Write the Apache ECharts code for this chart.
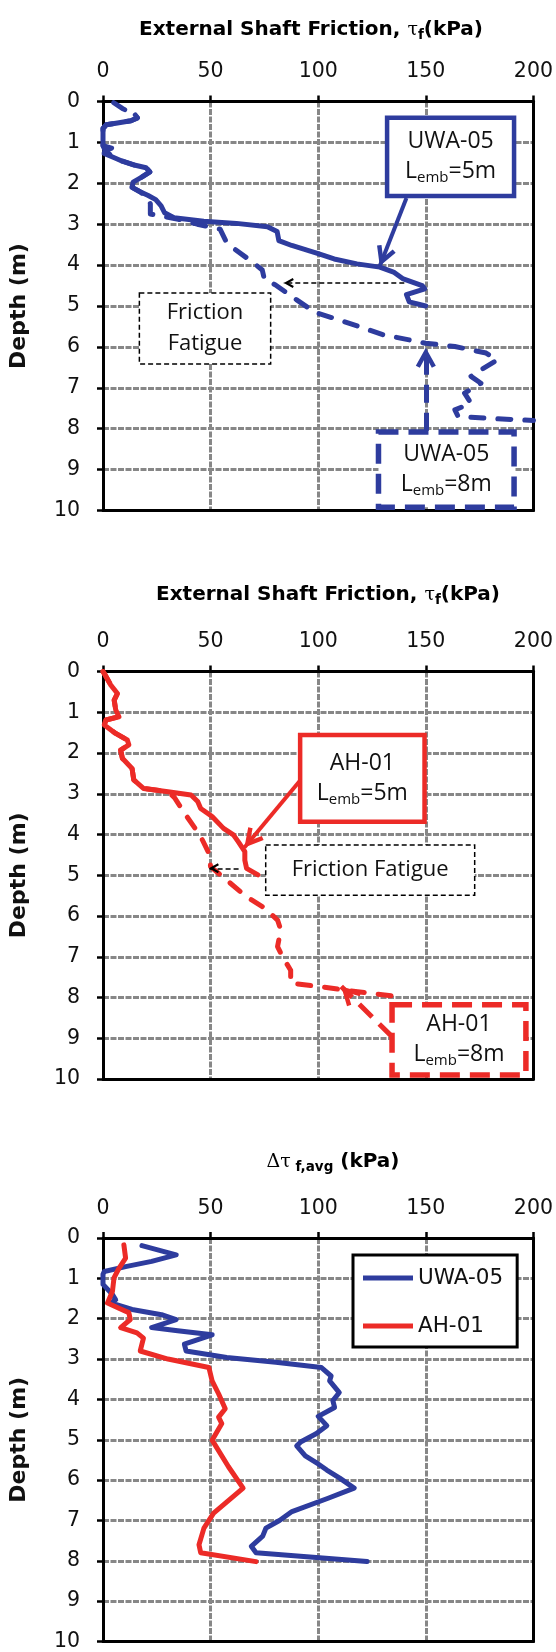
<!DOCTYPE html>
<html>
<head>
<meta charset="utf-8">
<script src="https://cdn.jsdelivr.net/npm/echarts@6/dist/echarts.min.js"></script>
<style>
  html, body { margin: 0; background: #fff; }
  #chart { width: 556px; height: 1652px; }
</style>
</head>
<body>
<div id="chart"></div>
<script>
// tick labels
const frictionTicks = [0, 50, 100, 150, 200];
const depthTicks = [0, 1, 2, 3, 4, 5, 6, 7, 8, 9, 10];

// external shaft friction profiles, [kPa, depth m]
const uwa05Lemb5 = [[15, 0.33], [16, 0.4], [13, 0.47], [6, 0.53], [1.5, 0.57], [0, 0.66], [0, 1.08], [4, 1.14], [1, 1.2], [0.5, 1.27], [5, 1.37], [9, 1.46], [15, 1.56], [20, 1.62], [21.8, 1.72], [18, 1.85], [14, 1.97], [13.5, 2.1], [17, 2.2], [21, 2.3], [24.5, 2.4], [27, 2.55], [28.6, 2.72], [33, 2.84], [46.8, 2.93], [62, 2.98], [76.4, 3.06], [80.9, 3.18], [81.7, 3.4], [87.7, 3.52], [100, 3.72], [107.4, 3.85], [118, 3.97], [128.6, 4.05], [135, 4.17], [139.2, 4.33], [148.3, 4.5], [149.5, 4.58], [141, 4.72], [142.3, 4.9], [149.9, 5.0]];
const uwa05Lemb8 = [[5, 0.03], [9, 0.17], [14, 0.3], [16, 0.4], [13, 0.47], [6, 0.53], [1.5, 0.57], [0, 0.66], [0, 1.08], [1, 1.2], [5, 1.37], [9, 1.46], [15, 1.56], [20, 1.62], [21.8, 1.72], [18, 1.85], [14, 1.97], [13.5, 2.1], [17, 2.2], [21, 2.35], [22, 2.5], [22, 2.75], [27, 2.8], [35, 2.88], [43.8, 3.0], [54.4, 3.12], [57, 3.4], [61, 3.6], [70, 3.95], [74, 4.12], [75, 4.35], [80, 4.48], [90, 4.85], [98.3, 5.15], [112, 5.38], [130, 5.7], [149.9, 5.91], [163.5, 5.99], [178, 6.15], [183.2, 6.32], [175.6, 6.56], [171, 6.72], [175.6, 6.89], [168, 7.13], [171, 7.38], [163.5, 7.54], [165, 7.7], [180, 7.75], [200, 7.8]];
const ah01Lemb5 = [[0, 0], [0.6, 0.05], [3.6, 0.33], [6.7, 0.54], [5.2, 0.7], [5.9, 0.94], [7.4, 1.11], [1.4, 1.19], [0.6, 1.31], [5.9, 1.52], [11.3, 1.68], [12, 1.8], [8.2, 1.93], [9, 2.13], [13.5, 2.38], [14.3, 2.66], [18.8, 2.87], [30.2, 2.95], [40.9, 3.03], [44, 3.19], [45.4, 3.36], [50.7, 3.56], [56, 3.85], [60.6, 4.01], [62.9, 4.18], [65.9, 4.42], [65.9, 4.63], [66.7, 4.83], [72, 4.99]];
const ah01Lemb8 = [[0, 0], [0.6, 0.05], [3.6, 0.33], [6.7, 0.54], [5.2, 0.7], [5.9, 0.94], [7.4, 1.11], [1.4, 1.19], [0.6, 1.31], [5.9, 1.52], [11.3, 1.68], [12, 1.8], [8.2, 1.93], [9, 2.13], [13.5, 2.38], [14.3, 2.66], [18.8, 2.87], [30.2, 2.95], [33.3, 3.1], [37.8, 3.47], [45.4, 4.05], [49.2, 4.46], [50, 4.79], [57.5, 5.12], [66.7, 5.53], [75, 5.8], [81.1, 6.1], [82.6, 6.34], [81.1, 6.75], [83.4, 7.0], [87.2, 7.33], [87.2, 7.65], [100, 7.73], [118.3, 7.86], [138, 7.98]];

// delta tau f,avg, [kPa, depth m]
const uwa05Avg = [[18.1, 0.19], [34, 0.42], [22.6, 0.58], [10.5, 0.71], [0.6, 0.83], [0, 0.9], [0, 1.15], [4.4, 1.4], [5.9, 1.53], [3.6, 1.61], [13.5, 1.77], [27.2, 1.9], [34, 2.02], [22.6, 2.22], [34.7, 2.3], [50.7, 2.4], [37.8, 2.63], [38.6, 2.8], [57.5, 2.96], [80.3, 3.08], [101.5, 3.21], [106, 3.42], [105.3, 3.54], [109.8, 3.83], [106.8, 4.03], [107.6, 4.2], [100, 4.42], [104, 4.65], [99, 4.85], [92, 5.05], [90, 5.15], [94, 5.4], [100, 5.6], [104, 5.75], [110, 5.95], [116.7, 6.2], [104.6, 6.45], [87.8, 6.78], [82, 7.0], [75.7, 7.19], [74.2, 7.39], [68.9, 7.64], [71.1, 7.8], [122.7, 8.02]];
const ah01Avg = [[9.7, 0.17], [10.5, 0.5], [7.4, 0.75], [5.1, 0.99], [4.4, 1.32], [2.1, 1.61], [7.4, 1.74], [12, 1.85], [12.7, 2.02], [8.2, 2.22], [15.8, 2.35], [18.8, 2.48], [17.3, 2.8], [30.2, 3.0], [49.2, 3.21], [50.7, 3.54], [53.7, 3.86], [56.8, 4.23], [53.7, 4.44], [55.2, 4.6], [50.7, 5.01], [58.3, 5.67], [65.1, 6.2], [51.4, 6.82], [46.9, 7.19], [44.6, 7.6], [45.4, 7.8], [71.1, 8.02]];

const BLUE = '#2e3c9e';
const RED = '#ec2b27';
const GREY = '#878787';
const TXT = '#111';
// chevron pointing up, tip sits at the centre of its box
const arrowHead = 'path://M5,0 L10,9 L8,10 L5,4.5 L2,10 L0,9 Z M5,-10 L5,-10';

const grids = [
  { left: 97, width: 439, top: 101.5, height: 409 },
  { left: 97, width: 439, top: 671.5, height: 407.5 },
  { left: 97, width: 439, top: 1238, height: 406.5 }
];

const frame = { show: true, onZero: false, lineStyle: { color: '#000', width: 3 } };
const gridLine = { show: true, showMinLine: false, showMaxLine: false, lineStyle: { color: GREY, width: 3, type: [6, 1.5] } };
const xAxes = [];
const yAxes = [];
grids.forEach((g, i) => {
  xAxes.push({
    type: 'value', gridIndex: i, position: 'top',
    min: frictionTicks[0], max: frictionTicks[frictionTicks.length - 1],
    interval: frictionTicks[1] - frictionTicks[0],
    axisLine: frame,
    axisTick: { show: true, length: 6, lineStyle: { color: '#000', width: 2.5 } },
    axisLabel: { fontFamily: 'DejaVu Sans', fontSize: 20.5, color: TXT, margin: 19 },
    splitLine: gridLine
  });
  xAxes.push({
    type: 'value', gridIndex: i, position: 'bottom', min: 0, max: 1,
    axisLine: frame, axisTick: { show: false }, axisLabel: { show: false }, splitLine: { show: false }
  });
  yAxes.push({
    type: 'value', gridIndex: i, position: 'left', inverse: true,
    min: depthTicks[0], max: depthTicks[depthTicks.length - 1],
    interval: depthTicks[1] - depthTicks[0],
    name: 'Depth (m)', nameLocation: 'middle', nameGap: 73,
    nameTextStyle: { fontFamily: 'DejaVu Sans', fontWeight: 'bold', fontSize: 22, color: TXT },
    axisLine: frame,
    axisTick: { show: true, length: 6, lineStyle: { color: '#000', width: 2.5 } },
    axisLabel: { fontFamily: 'DejaVu Sans', fontSize: 20.5, color: TXT, margin: 23 },
    splitLine: gridLine
  });
  yAxes.push({
    type: 'value', gridIndex: i, position: 'right', min: 0, max: 1,
    axisLine: frame, axisTick: { show: false }, axisLabel: { show: false }, splitLine: { show: false }
  });
});

const boxRich = {
  t: { fontFamily: 'Open Sans', fontSize: 23, color: TXT, lineHeight: 30 },
  s: { fontFamily: 'Open Sans', fontSize: 15, color: TXT, lineHeight: 30, padding: [12, 0, 0, 0] },
  f: { fontFamily: 'Open Sans', fontSize: 22, color: TXT, lineHeight: 31 }
};

function box(from, to, color, width, dash, text) {
  return [
    {
      coord: from,
      itemStyle: { color: '#fff', borderColor: color, borderWidth: width, borderType: dash },
      label: { show: true, position: 'inside', formatter: text, rich: boxRich }
    },
    { coord: to }
  ];
}

function arrow(from, to, color, width, dash, size) {
  return [
    { coord: from, lineStyle: { color: color, width: width, type: dash, cap: 'butt' } },
    { coord: to, symbol: arrowHead, symbolSize: [size, size * 2] }
  ];
}

function curve(name, data, gi, color, dashed, marks) {
  const s = {
    type: 'line', name: name, data: data,
    xAxisIndex: gi * 2, yAxisIndex: gi * 2,
    symbol: 'none', silent: true, z: dashed ? 3 : 4,
    lineStyle: { color: color, width: 5, type: dashed ? [13, 14] : 'solid', cap: 'round', join: 'round' },
    itemStyle: { color: color }
  };
  if (marks) {
    if (marks.areas) s.markArea = { silent: true, z: 5, data: marks.areas };
    if (marks.arrows) s.markLine = { silent: true, symbol: ['none', arrowHead], label: { show: false }, z: 6, data: marks.arrows };
  }
  return s;
}

const lemb5 = '{t|L}{s|emb}{t|=5m}';
const lemb8 = '{t|L}{s|emb}{t|=8m}';

const series = [
  curve('UWA-05 8m', uwa05Lemb8, 0, BLUE, true, {
    areas: [
      box([128, 8.08], [191, 9.92], BLUE, 5.5, [20, 10], '{t|UWA-05}\n' + lemb8),
      box([16.9, 4.68], [77.9, 6.42], '#000', 1.5, [5, 3], '{f|Friction}\n{f|Fatigue}')
    ],
    arrows: [
      arrow([150, 8.05], [150, 6.02], BLUE, 5, [18, 10], 20),
      arrow([140, 4.44], [84, 4.44], '#000', 1.5, [5, 3], 10)
    ]
  }),
  curve('UWA-05 5m', uwa05Lemb5, 0, BLUE, false, {
    areas: [box([132, 0.4], [191, 2.31], BLUE, 4.5, 'solid', '{t|UWA-05}\n' + lemb5)],
    arrows: [arrow([141, 2.36], [128.6, 4.02], BLUE, 4, 'solid', 20)]
  }),
  curve('AH-01 8m', ah01Lemb8, 1, RED, true, {
    areas: [
      box([134.3, 8.18], [196.5, 9.9], RED, 5.5, [20, 10], '{t|AH-01}\n' + lemb8),
      box([75.6, 4.26], [172.7, 5.49], '#000', 1.5, [5, 3], '{f|Friction Fatigue}')
    ],
    arrows: [
      arrow([134.3, 8.96], [110.7, 7.73], RED, 5, [18, 10], 20),
      arrow([63, 4.83], [49.2, 4.83], '#000', 1.5, [5, 3], 10)
    ]
  }),
  curve('AH-01 5m', ah01Lemb5, 1, RED, false, {
    areas: [box([91.6, 1.56], [149.4, 3.69], RED, 4.5, 'solid', '{t|AH-01}\n' + lemb5)],
    arrows: [arrow([91.7, 2.67], [65.7, 4.32], RED, 4, 'solid', 20)]
  }),
  curve('UWA-05', uwa05Avg, 2, BLUE, false),
  curve('AH-01', ah01Avg, 2, RED, false)
];

const titleRich = {
  b: { fontFamily: 'DejaVu Sans', fontWeight: 'bold', fontSize: 20, color: TXT, lineHeight: 28 },
  g: { fontFamily: 'DejaVu Serif', fontSize: 19, color: TXT, lineHeight: 28 },
  s: { fontFamily: 'DejaVu Sans', fontWeight: 'bold', fontSize: 13.5, color: TXT, lineHeight: 28, padding: [10, 0, 0, 0] }
};
function title(x, y, text) {
  return { type: 'text', x: x, y: y, silent: true,
    style: { text: text, rich: titleRich, align: 'center', verticalAlign: 'middle' } };
}

const chart = echarts.init(document.getElementById('chart'));
chart.setOption({
  animation: false,
  backgroundColor: '#fff',
  grid: grids,
  xAxis: xAxes,
  yAxis: yAxes,
  legend: {
    data: ['UWA-05', 'AH-01'], orient: 'vertical', left: 353, top: 1255,
    padding: [12, 14, 10, 10], itemGap: 26, itemWidth: 50, itemHeight: 5, icon: 'rect',
    borderColor: '#000', borderWidth: 3, backgroundColor: '#fff', selectedMode: false,
    textStyle: { fontFamily: 'DejaVu Sans', fontSize: 21.5, color: TXT }
  },
  graphic: [
    title(311, 30, '{b|External Shaft Friction, }{g|τ}{s|f}{b|(kPa)}'),
    title(328, 595, '{b|External Shaft Friction, }{g|τ}{s|f}{b|(kPa)}'),
    title(333, 1162, '{g|Δτ}{s| f,avg}{b| (kPa)}')
  ],
  series: series
});
</script>
</body>
</html>
